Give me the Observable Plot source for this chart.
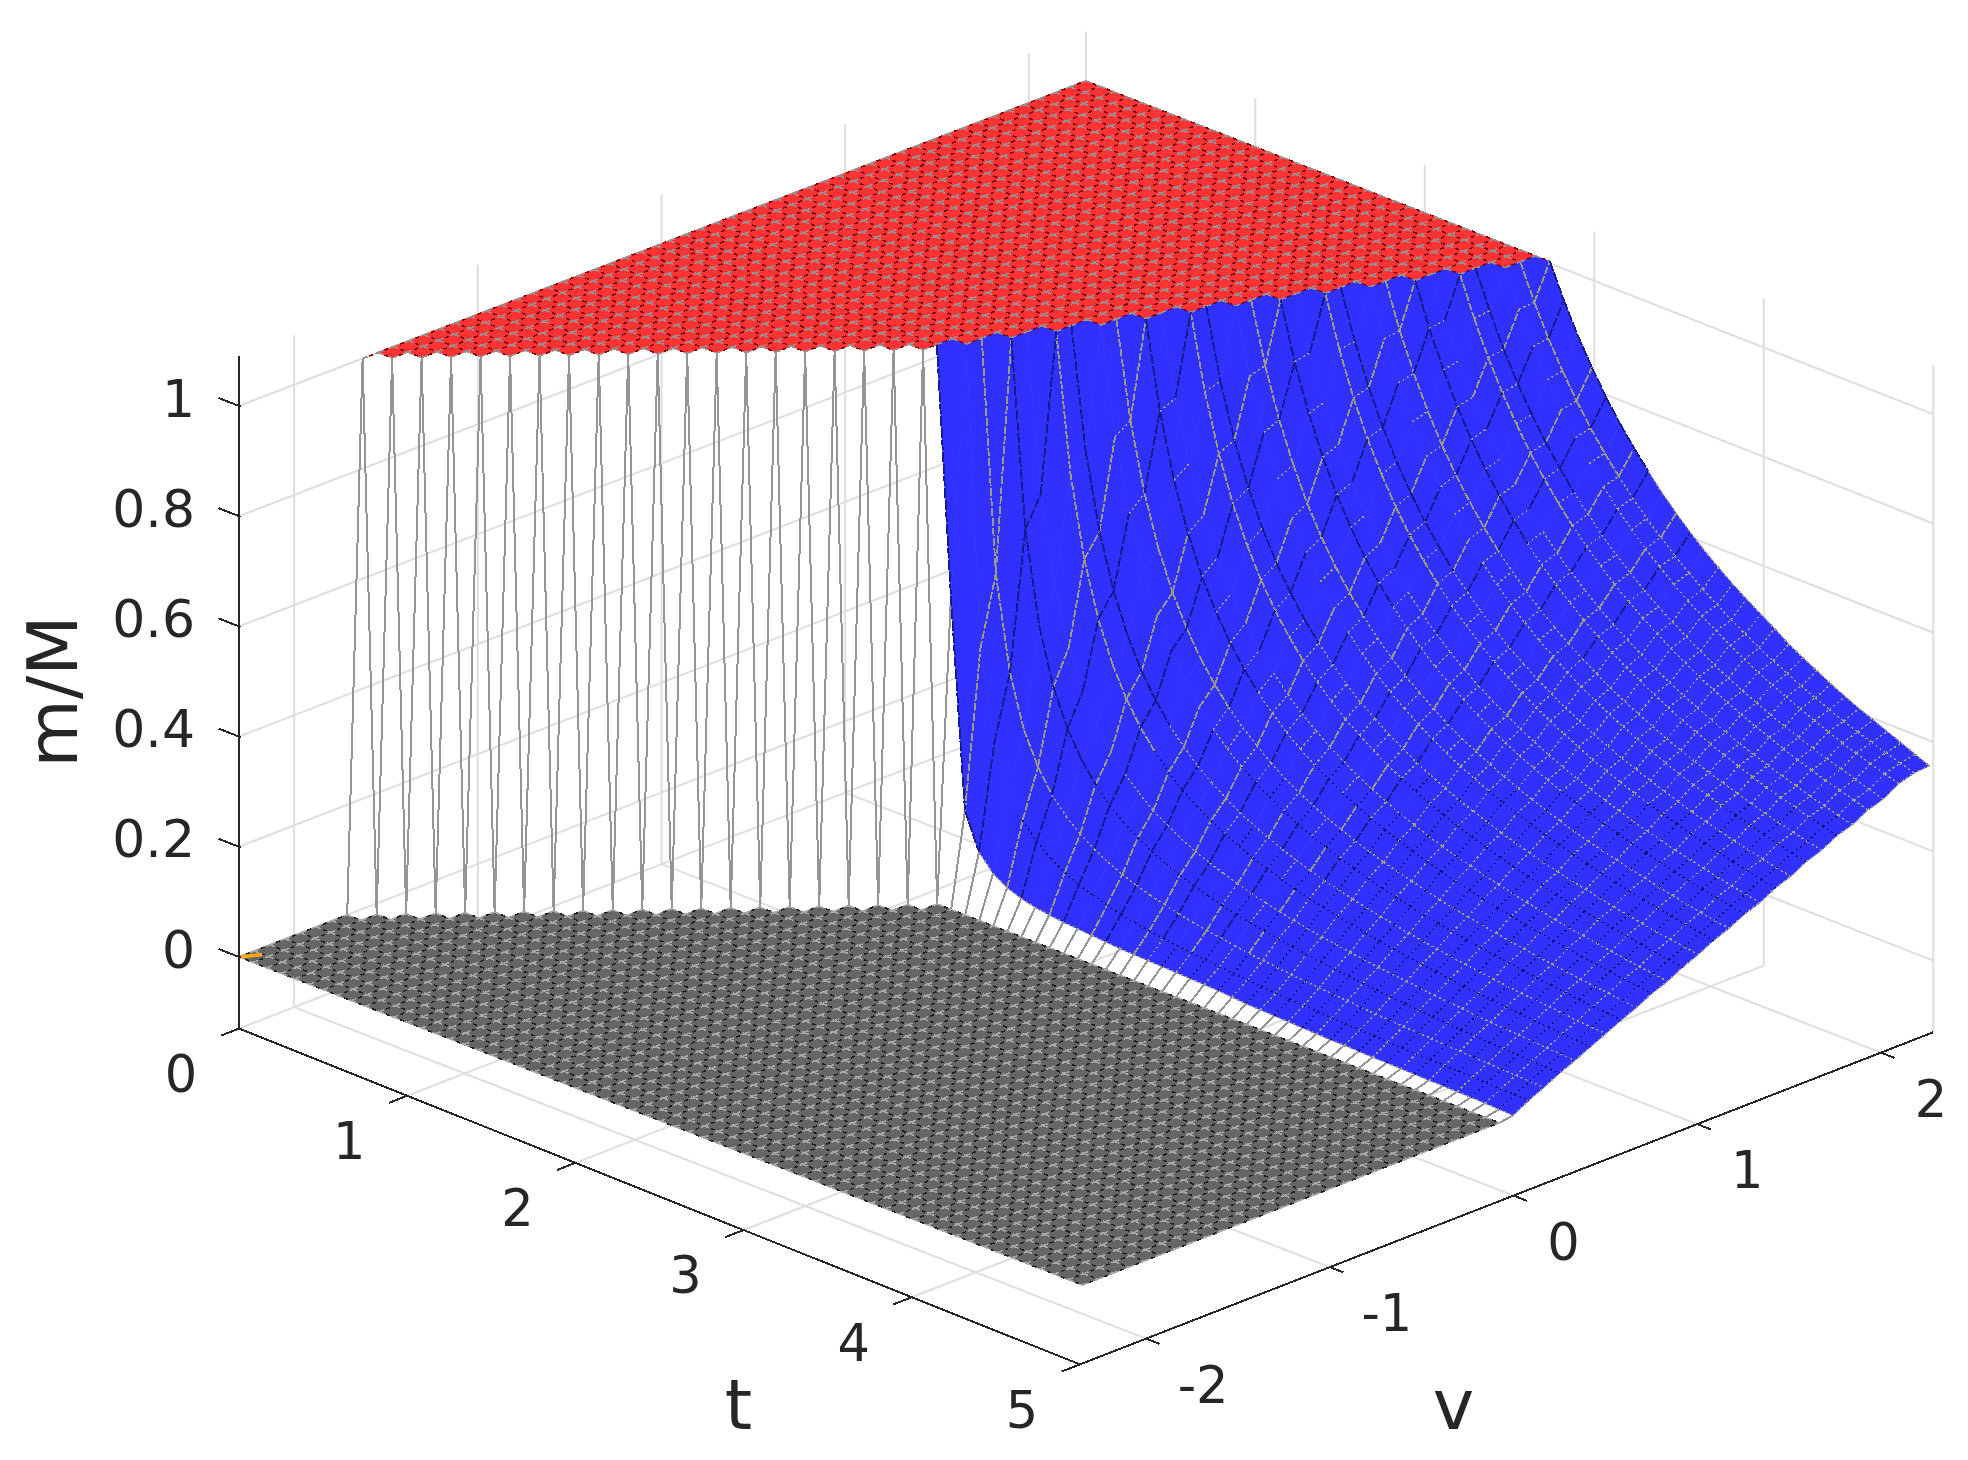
<!DOCTYPE html>
<html><head><meta charset="utf-8">
<script src="https://cdn.jsdelivr.net/npm/d3@7"></script>
<script src="https://cdn.jsdelivr.net/npm/@observablehq/plot@0.6"></script>
<style>html,body{margin:0;padding:0;background:#fff}svg{display:block}</style>
</head><body><div id="chart"></div>
<script>
const tTicks=[0,1,2,3,4,5];
const vTicks=[-2,-1,0,1,2];
const zTicks=[0,0.2,0.4,0.6,0.8,1];
const zLabels=["0","0.2","0.4","0.6","0.8","1"];
const tValues=[0,.0825,.165,.2475,.33,.4125,.495,.5775,.66,.7425,.825,.9075,.99,1.0725,1.155,1.2375,1.32,1.4025,1.485,1.5675,1.65,1.7325,1.815,1.8975,1.98,2.0625,2.145,2.2275,2.31,2.3925,2.475,2.5575,2.64,2.7225,2.805,2.8875,2.97,3.0525,3.135,3.2175,3.3,3.3825,3.465,3.5475,3.63,3.7125,3.795,3.8775,3.96,4.0425,4.125,4.2075,4.29,4.3725,4.455,4.5375,4.62,4.7025,4.785,4.8675,4.95];
const vValues=[-2.3,-2.216,-2.132,-2.048,-1.964,-1.88,-1.795,-1.711,-1.627,-1.543,-1.459,-1.375,-1.291,-1.207,-1.123,-1.039,-.954,-.87,-.786,-.702,-.618,-.534,-.45,-.366,-.282,-.198,-.114,-.03,.045,.129,.213,.297,.381,.465,.548,.632,.716,.8,.884,.968,1.052,1.136,1.22,1.304,1.387,1.471,1.555,1.639,1.723,1.807,1.891,1.975,2.059,2.143,2.226,2.31];
// last row (index into tValues) at which m/M is still 1, per v column; -1 = never
const lastFullRow=[-1,-1,-1,-1,-1,-1,-1,-1,0,1,2,3,4,5,6,7,8,9,10,11,12,13,14,15,16,17,18,19,19,20,20,21,21,22,22,23,23,24,24,25,25,26,26,27,27,28,28,29,29,30,30,31,31,32,32,33];
// m/M in thousandths on the falling sheet, per positive v column, rows after lastFullRow
const fallingSheet=[
[550,170,105,76,60,50,44,40,37,35,33,31,29,28,27,26,25,24,23,22,20,18,17,16,15,14,13,12,12,11,10,10,9,9,8,8,7,7,6,5,4],
[455,294,217,172,143,122,106,94,85,77,70,65,60,56,53,50,47,44,42,40,38,36,35,34,32,31,30,29,28,27,26,25,25,24,23,23,22,21,21,20],
[581,410,316,258,217,188,166,148,134,122,112,104,97,90,85,80,76,72,68,65,62,59,57,55,53,51,49,47,46,44,43,42,40,39,38,37,36,35,34,33],
[660,493,393,327,280,245,217,196,178,163,150,139,130,122,115,108,103,98,93,89,85,81,78,75,72,70,67,65,63,61,59,57,56,54,53,51,50,49,48],
[714,556,455,385,333,294,263,238,217,200,185,172,161,152,143,135,128,122,116,111,106,102,98,94,91,88,85,82,79,77,75,72,70,68,67,65,63,62,60],
[753,604,505,433,379,337,304,276,253,234,217,203,190,179,169,160,152,145,139,133,127,122,117,113,109,105,102,98,95,92,90,87,85,82,80,78,76,74],
[783,644,546,474,419,376,340,311,286,265,247,231,217,205,194,184,175,167,160,153,147,141,136,131,126,122,118,114,111,107,104,101,99,96,94,91,89,87],
[806,676,581,510,455,410,373,342,316,294,275,258,243,229,217,207,197,188,180,172,166,159,153,148,143,138,134,130,126,122,118,115,112,109,106,104,101],
[825,702,611,541,486,440,403,371,344,321,300,282,266,252,239,228,217,208,199,191,184,177,170,164,159,154,149,144,140,136,132,129,125,122,119,116,113],
[841,725,638,569,514,468,430,397,370,345,324,305,289,274,260,248,237,227,217,209,201,193,187,180,174,169,163,159,154,150,145,142,138,134,131,128],
[854,745,660,593,538,493,455,422,393,368,347,327,310,294,280,267,255,245,235,226,217,210,202,196,189,183,178,172,167,163,158,154,150,146,143,139],
[865,762,680,615,561,516,477,444,415,390,367,348,330,313,299,285,273,262,252,242,233,225,217,210,204,197,191,186,181,176,171,166,162,158,154],
[874,776,698,635,581,537,498,465,436,410,387,367,348,332,316,303,290,278,268,258,248,240,232,224,217,211,205,199,193,188,183,178,174,170,166],
[882,789,714,652,600,556,517,484,455,429,405,385,366,349,333,319,306,294,283,273,263,254,246,238,231,224,217,211,205,200,195,190,185,181],
[890,801,729,668,617,573,535,502,472,446,423,402,383,365,349,335,322,309,298,287,277,268,259,251,244,237,230,224,217,212,206,201,196,192],
[896,812,742,683,633,589,552,518,489,463,439,418,399,381,365,350,336,324,312,301,291,281,272,264,256,249,242,235,229,223,217,212,207],
[902,821,753,696,647,604,567,534,505,478,455,433,413,396,379,364,350,337,325,314,304,294,285,276,268,261,253,247,240,234,228,223,217],
[907,829,764,709,660,618,581,549,519,493,469,447,428,410,393,378,364,351,338,327,316,306,297,288,280,272,265,258,251,245,239,233],
[911,837,774,720,673,631,595,562,533,507,483,461,442,423,407,391,377,363,351,339,329,319,309,300,291,283,276,268,262,255,249,243],
[915,844,783,730,684,644,608,575,546,520,496,474,455,436,419,404,389,376,363,351,340,330,320,311,302,294,286,279,272,265,259],
[919,851,792,740,695,655,619,587,559,532,509,487,467,449,432,416,401,388,375,363,352,341,331,322,313,305,297,289,282,275,269],
[923,857,799,749,705,666,631,599,570,544,521,499,479,460,443,428,413,399,386,374,363,352,342,332,323,315,307,299,292,285],
[926,862,806,758,714,676,641,610,581,556,532,510,490,472,455,439,424,410,397,385,373,362,352,342,333,325,316,309,301,294],
[929,867,813,766,723,685,651,620,592,566,543,521,501,483,465,449,434,420,407,395,383,373,362,352,343,334,326,318,310],
[932,872,819,773,731,694,660,630,602,576,553,531,511,493,476,460,444,430,417,405,393,382,372,362,352,344,335,327,319],
[934,876,825,780,739,702,669,639,611,586,563,541,521,503,486,470,454,440,427,415,403,392,381,371,362,353,344,336],
[936,880,831,786,746,710,678,648,620,596,572,551,531,513,495,479,464,450,437,424,412,401,390,380,371,362,353,345],
[939,884,836,792,753,718,686,656,629,604,581,560,540,522,505,488,470,455,441,427,414,402,391,380,369,358,347]
];

const firstFallingColumn=28;
const M=vValues.map((v,j)=>tValues.map((t,i)=>{
  const r=lastFullRow[j];
  if(i<=r) return 1;
  if(j<firstFallingColumn) return 0;
  return fallingSheet[j-firstFallingColumn][i-r-1]/1000;
}));

// view transform: (t, v, m) to plot x/y
const tLo=0,tHi=5,zLo=-0.13,zHi=1.09;
const vLoAt=t=>-2.3-0.012*t, vHiAt=t=>2.31-0.005*t;
const X=(t,v)=>661+170.4*t+183.7*v;
const Y=(t,v,z)=>792+66.3*t-71.5*v-551*z*(z>0?1-0.0018*(v+2.3):1);

const seg=(a,b)=>({x1:X(a[0],a[1]),y1:Y(a[0],a[1],a[2]),x2:X(b[0],b[1]),y2:Y(b[0],b[1],b[2])});
const grid=[
  ...tTicks.map(t=>seg([t,vLoAt(t),zLo],[t,vHiAt(t),zLo])),
  ...vTicks.map(v=>seg([tLo,v,zLo],[tHi,v,zLo])),
  ...tTicks.map(t=>seg([t,vHiAt(t),zLo],[t,vHiAt(t),zHi])),
  ...vTicks.map(v=>seg([tLo,v,zLo],[tLo,v,zHi])),
  ...zTicks.map(z=>seg([tLo,vLoAt(0),z],[tLo,vHiAt(0),z])),
  ...zTicks.map(z=>seg([tLo,vHiAt(0),z],[tHi,vHiAt(5),z]))
];
const axes=[
  seg([tLo,vLoAt(0),zLo],[tLo,vLoAt(0),zHi]),
  seg([tLo,vLoAt(0),zLo],[tHi,vLoAt(5),zLo]),
  seg([tHi,vLoAt(5),zLo],[tHi,vHiAt(5),zLo]),
  ...tTicks.map(t=>seg([t,vLoAt(t),zLo],[t,vLoAt(t)-0.1,zLo])),
  ...vTicks.map(v=>seg([tHi,v,zLo],[tHi+0.08,v,zLo])),
  ...zTicks.map(z=>seg([tLo+0.01,vLoAt(0),z],[tLo-0.12,vLoAt(0),z]))
];

// surface cells and mesh segments
const cells={red:[],gray:[],blue:[]};
const mesh={red:[],gray:[],wall:[],blueLong:[],blueLongDark:[],blueDot:[],blueDotDark:[]};
const nT=tValues.length-1,nV=vValues.length-1;
const pt=(i,j)=>[tValues[i],vValues[j],M[j][i]];
vValues.forEach((_,j)=>tValues.forEach((_,i)=>{
  if(i<nT&&j<nV){
    const c=[[i,j],[i+1,j],[i+1,j+1],[i,j+1]];
    const ms=c.map(([a,b])=>M[b][a]);
    const cls=ms.every(m=>m===1)?"red":ms.every(m=>m===0)?"gray":ms.some(m=>m===0)?null:"blue";
    if(cls) c.forEach(([a,b])=>{const p=pt(a,b);cells[cls].push({id:i*100+j,x:X(p[0],p[1]),y:Y(p[0],p[1],p[2])});});
  }
  const addSeg=(a,b,idx)=>{
    const s=seg(pt(...a),pt(...b));
    const p=M[a[1]][a[0]],q=M[b[1]][b[0]];
    if(p===1&&q===1) mesh.red.push(s);
    else if(p===0&&q===0) mesh.gray.push(s);
    else if(p===0||q===0) mesh.wall.push(s);
    else if(Math.abs(s.y2-s.y1)>22){
      if(idx%3===0) mesh.blueLong.push(s);
      else if(idx%3===1) mesh.blueLongDark.push(s);
    } else if(idx%2===1&&(p+q)/2<0.3) mesh.blueDotDark.push(s);
    else mesh.blueDot.push(s);
  };
  if(i<nT) addSeg([i,j],[i+1,j],j);
  if(j<nV) addSeg([i,j],[i,j+1],i);
}));

const cellMark=(data,fill)=>Plot.line(data,{x:"x",y:"y",z:"id",curve:"linear-closed",fill,stroke:fill,strokeWidth:0.7});
const meshMark=(data,stroke,strokeWidth,dash,offset,crisp=true)=>Plot.link(data,{x1:"x1",y1:"y1",x2:"x2",y2:"y2",stroke,strokeWidth,strokeDasharray:dash,strokeDashoffset:offset,shapeRendering:crisp?"crispEdges":"auto"});
const font="DejaVu Sans",ink="#262626";

const tLabelData=tTicks.map(t=>({x:X(t,vLoAt(t)),y:Y(t,vLoAt(t),zLo),s:String(t)}));
const vLabelData=vTicks.map(v=>({x:X(tHi,v),y:Y(tHi,v,zLo),s:String(v),neg:v<0}));
const zLabelData=zTicks.map((z,k)=>({x:X(tLo,vLoAt(0)),y:Y(tLo,vLoAt(0),z),s:zLabels[k]}));

const chart=Plot.plot({
  width:1968,height:1460,margin:0,
  x:{domain:[0,1968],range:[0,1968],axis:null},
  y:{domain:[0,1460],range:[0,1460],axis:null},
  style:{background:"#fff"},
  marks:[
    meshMark(grid,"#dedede",2,undefined,undefined,false),
    cellMark(cells.gray,"#666666"),
    cellMark(cells.red,"#ff3333"),
    cellMark(cells.blue,"#3030ff"),
    meshMark(mesh.wall,"#959595",2),
    meshMark(mesh.red,"#9a8f8f",1.7,"5 8",0),
    meshMark(mesh.red,"#6e0a10",1.6,"4 9",-7),
    meshMark(mesh.gray,"#a8a8a8",1.6,"5 8",0),
    meshMark(mesh.gray,"#202020",1.6,"4 9",-7),
    meshMark(mesh.blueLong,"#9a9a80",1.9,"8 2"),
    meshMark(mesh.blueLongDark,"#161a90",1.9,"10 2"),
    meshMark(mesh.blueDot,"#a0a080",1.6,"2 3"),
    meshMark(mesh.blueDotDark,"#101480",1.6,"2 3"),
    Plot.link([seg([0,-2.3,0],[0.05,-2.22,0])],{x1:"x1",y1:"y1",x2:"x2",y2:"y2",stroke:"#ffaa11",strokeWidth:3.5}),
    meshMark(axes,ink,2),
    Plot.text(tLabelData,{x:"x",y:"y",text:"s",dx:-58,dy:47,fontSize:51,fontFamily:font,fill:ink}),
    Plot.text(vLabelData.filter(d=>!d.neg),{x:"x",y:"y",text:"s",dx:50,dy:48,fontSize:51,fontFamily:font,fill:ink}),
    Plot.text(vLabelData.filter(d=>d.neg),{x:"x",y:"y",text:"s",dx:57,dy:48,fontSize:51,fontFamily:font,fill:ink}),
    Plot.text(zLabelData,{x:"x",y:"y",text:"s",dx:-44,dy:-6,textAnchor:"end",fontSize:52,fontFamily:font,fill:ink}),
    Plot.text([{x:X(2.5,vLoAt(2.5)),y:Y(2.5,vLoAt(2.5),zLo),s:"t"}],{x:"x",y:"y",text:"s",dx:79,dy:210,fontSize:70,fontFamily:font,fill:ink}),
    Plot.text([{x:X(tHi,0),y:Y(tHi,0,zLo),s:"v"}],{x:"x",y:"y",text:"s",dx:-60,dy:211,fontSize:70,fontFamily:font,fill:ink}),
    Plot.text([{x:X(tLo,vLoAt(0)),y:Y(tLo,vLoAt(0),0.5),s:"m/M"}],{x:"x",y:"y",text:"s",dx:-184,dy:10,rotate:-90,fontSize:70,fontFamily:font,fill:ink})
  ]
});
document.getElementById("chart").append(chart);
</script></body></html>
